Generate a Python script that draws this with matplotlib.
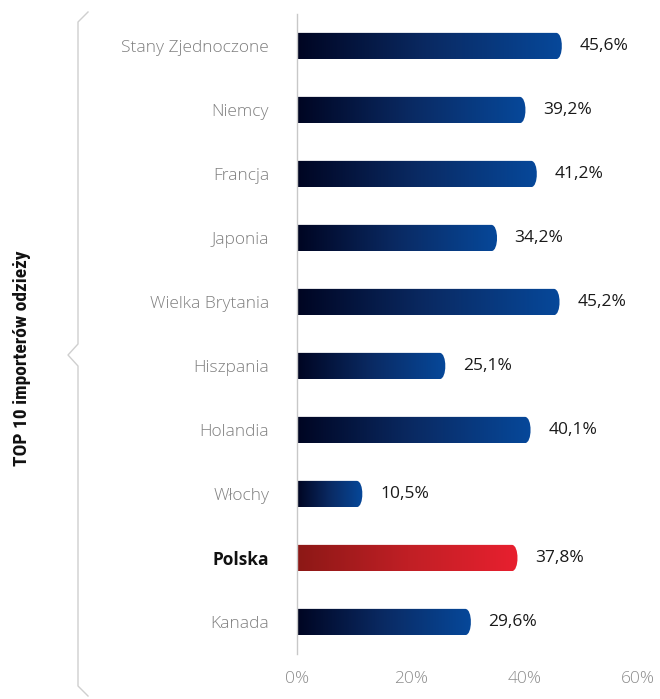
import numpy as np
import matplotlib
matplotlib.use("Agg")
import matplotlib.pyplot as plt
from matplotlib.path import Path
from matplotlib.patches import PathPatch
from matplotlib.colors import LinearSegmentedColormap
from matplotlib.lines import Line2D

categories = ["Stany Zjednoczone", "Niemcy", "Francja", "Japonia", "Wielka Brytania",
              "Hiszpania", "Holandia", "Włochy", "Polska", "Kanada"]
values = [45.6, 39.2, 41.2, 34.2, 45.2, 25.1, 40.1, 10.5, 37.8, 29.6]
highlight = "Polska"
xticks = [0, 20, 40, 60]
xtick_labels = ["0%", "20%", "40%", "60%"]
axis_title = "TOP 10 importerów odzieży"

plt.rcParams["font.family"] = ["Open Sans", "DejaVu Sans"]

W, H = 660, 699
fig = plt.figure(figsize=(W / 100, H / 100), dpi=100)
ax = fig.add_axes([297 / W, 1 - 654 / H, (638 - 297) / W, 640 / H])
n = len(categories)

navy = LinearSegmentedColormap.from_list("navy", ["#000522", "#0a2a63", "#06489a"])
red = LinearSegmentedColormap.from_list("red", ["#8c1816", "#c01f25", "#e8202f"])

bar_h = 0.41
cap = 1.0
grad = np.linspace(0, 1, 256).reshape(1, -1)

for i, (cat, v) in enumerate(zip(categories, values)):
    y0, y1 = i - bar_h / 2, i + bar_h / 2
    # rectangular body with a rounded right end
    verts = [(0, y0), (v, y0),
             (v + cap * 1.33, y0), (v + cap * 1.33, y1), (v, y1),
             (0, y1), (0, y0)]
    codes = [Path.MOVETO, Path.LINETO, Path.CURVE4, Path.CURVE4, Path.CURVE4,
             Path.LINETO, Path.CLOSEPOLY]
    patch = PathPatch(Path(verts, codes), facecolor="none", edgecolor="none")
    ax.add_patch(patch)
    cmap = red if cat == highlight else navy
    im = ax.imshow(grad, cmap=cmap, aspect="auto",
                   extent=[0, v + cap, y1, y0], interpolation="bilinear", zorder=2)
    im.set_clip_path(patch)
    ax.text(v + 4.1, i, f"{v:.1f}%".replace(".", ","), va="center", ha="left",
            fontsize=12.5, color="#1a1a1a", zorder=3)

ax.set_xlim(0, 60)
ax.set_ylim(n - 0.5, -0.5)
ax.set_yticks(range(n))
ax.set_yticklabels(categories)
for lbl in ax.get_yticklabels():
    if lbl.get_text() == highlight:
        lbl.set_color("#111111")
        lbl.set_fontweight("bold")
    else:
        lbl.set_color("#7f7f7f")
        lbl.set_fontweight("light")
    lbl.set_fontsize(12.5)
ax.tick_params(axis="y", length=0, pad=34)
ax.set_xticks(xticks)
ax.set_xticklabels(xtick_labels)
ax.tick_params(axis="x", length=0, pad=12, labelsize=12.5, labelcolor="#8c8c8c")
for lbl in ax.get_xticklabels():
    lbl.set_fontweight("light")

for s in ["top", "right", "bottom"]:
    ax.spines[s].set_visible(False)
ax.spines["left"].set_color("#c8c8c8")
ax.spines["left"].set_linewidth(1)
ax.spines["left"].set_zorder(4)

# curly bracket grouping the category labels
bx = [88, 78, 78, 68, 78, 78, 88]
by = [12, 22, 344, 355, 366, 686, 696]
fig.add_artist(Line2D([x / W for x in bx], [1 - y / H for y in by],
                      color="#cfcfcf", linewidth=1.0, transform=fig.transFigure))

fig.text(22 / W, 1 - 358 / H, axis_title, rotation=90, ha="center", va="center",
         fontsize=14, fontweight="bold", color="#111111",
         family=["Roboto Condensed", "Roboto", "DejaVu Sans"])

fig.canvas.draw()
ax.tick_params(axis="y", pad=20)

fig.savefig("out.png", dpi=100)
